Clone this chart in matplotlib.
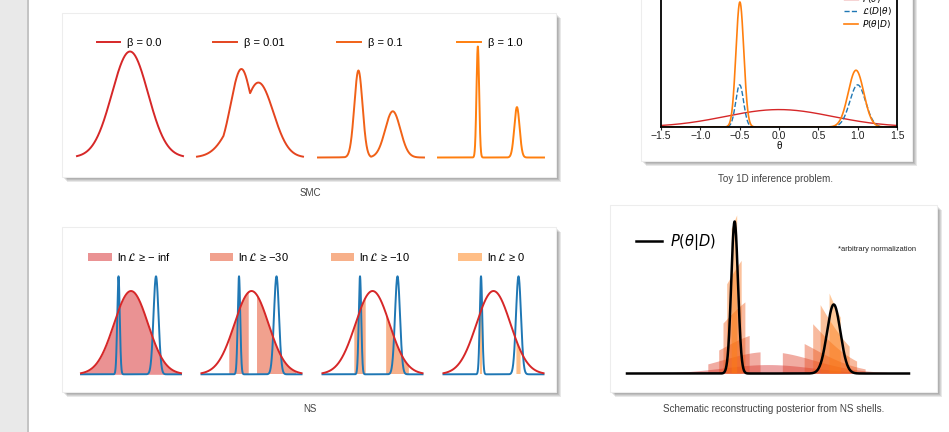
import numpy as np
import matplotlib
matplotlib.use("Agg")
import matplotlib.pyplot as plt
from matplotlib.patches import Rectangle
from matplotlib.colors import to_rgb

plt.rcParams['font.family'] = ['Liberation Sans', 'DejaVu Sans']
plt.rcParams['mathtext.fontset'] = 'dejavusans'

# toy 1D problem, parameters
prior_mu, prior_sd = 0.0, 0.68
like_mu = [-0.5, 1.0]
like_sd = [0.05, 0.10]
lnl_max = 0.35
lnl_floor = -50.0

# SMC panel
betas = [0.0, 0.01, 0.1, 1.0]
smc_labels = ['β = 0.0', 'β = 0.01', 'β = 0.1', 'β = 1.0']
smc_peak_px = [106, 88.5, 87, 111]

# NS panel
ns_thresh = [-np.inf, -30, -10, 0]
ns_labels = [r'ln$\,\mathcal{L}$ ≥ − inf', r'ln$\,\mathcal{L}$ ≥ −30',
             r'ln$\,\mathcal{L}$ ≥ −10', r'ln$\,\mathcal{L}$ ≥ 0']
ns_prior_rel = 0.85

# posterior reconstruction from shells
shell_thresh = [-np.inf, -30, -10, -5, -2, 0]
shell_height = [0.045, 0.108, 0.205, 0.405, 0.67, 1.0]

captions = ['SMC', 'Toy 1D inference problem.', 'NS',
            'Schematic reconstructing posterior from NS shells.']

red, orange = np.array(to_rgb('#d62728')), np.array(to_rgb('#ff7f0e'))
def ramp(n):
    return [tuple(red + (orange - red) * t) for t in np.linspace(0, 1, n)]


def prior(x):
    return np.exp(-0.5 * ((x - prior_mu) / prior_sd) ** 2) / (prior_sd * np.sqrt(2 * np.pi))


def lnlike(x):
    l = sum(np.exp(-0.5 * ((x - m) / s) ** 2) for m, s in zip(like_mu, like_sd))
    with np.errstate(divide='ignore'):
        ll = np.log(l) + lnl_max
    return np.maximum(ll, lnl_floor)


W, H = 949, 432
fig = plt.figure(figsize=(W / 100, H / 100), dpi=100)
fig.patch.set_facecolor('white')


def px_axes(x0, y0, x1, y1):
    ax = fig.add_axes([x0 / W, 1 - y1 / H, (x1 - x0) / W, (y1 - y0) / H])
    ax.patch.set_alpha(0)
    return ax


def fig_xy(x, y):
    return (x / W, 1 - y / H)


# page background, cards, captions
bg = fig.add_axes([0, 0, 1, 1])
bg.set_xlim(0, W)
bg.set_ylim(H, 0)
bg.axis('off')
bg.add_patch(Rectangle((0, 0), 27.5, H, facecolor='#e9e9e9', lw=0))
bg.plot([28.2, 28.2], [0, H], color='#b9b9b9', lw=1.2)

cards = [(62, 13, 556, 177), (641, -20, 912, 161), (62, 227, 556, 392), (610, 205, 937, 392)]
for x0, y0, x1, y1 in cards:
    for off in range(1, 6):
        bg.add_patch(Rectangle((x0 + off, y0 + off), x1 - x0, y1 - y0,
                               facecolor='black', alpha=0.09, lw=0))
    bg.add_patch(Rectangle((x0, y0), x1 - x0, y1 - y0, facecolor='white',
                           edgecolor='#ededed', lw=0.8))

cap_pos = [(310, 193), (776, 179), (310, 409), (774, 409)]
cap_size = [7, 7.1, 7, 7.1]
for (cx, cy), cap, fs in zip(cap_pos, captions, cap_size):
    bg.text(cx, cy, cap, ha='center', va='center', fontsize=fs, color='#444444')

# ---- SMC: tempered posteriors
x = np.linspace(-2, 2, 4001)
pr = prior(x)
ll = lnlike(x)
smc_left = [77, 197, 318, 438]
for i, (b, lab, col, pk) in enumerate(zip(betas, smc_labels, ramp(4), smc_peak_px)):
    x0 = smc_left[i]
    ax = px_axes(x0, 45, x0 + 106, 157.5)
    p = pr * np.exp(b * (ll - ll.max()))
    p = p / p.max()
    ax.plot(x, p, color=col, lw=1.4, label=lab, clip_on=False)
    ax.set_xlim(-2, 2)
    ax.set_ylim(0, (157.5 - 45) / pk)
    ax.axis('off')
    ax.legend(loc='center', bbox_to_anchor=fig_xy(x0 + 52, 42.5),
              bbox_transform=fig.transFigure, frameon=False, fontsize=8,
              handlelength=2.15, handletextpad=0.6, borderpad=0, borderaxespad=0)

# ---- NS: likelihood-constrained prior
ns_left = [81, 201.5, 322.5, 443.5]
like_n = np.exp(ll) / np.exp(ll).max()
prior_n = pr / pr.max() * ns_prior_rel
for i, (t, lab, col) in enumerate(zip(ns_thresh, ns_labels, ramp(4))):
    x0 = ns_left[i]
    ax = px_axes(x0, 270, x0 + 100, 374.3)
    ax.fill_between(x, 0, prior_n, where=ll >= t, color=col, alpha=0.5, lw=0,
                    label=lab)
    ax.plot(x, like_n, color='#1f77b4', lw=1.4, clip_on=False)
    ax.plot(x, prior_n, color='#d62728', lw=1.4, clip_on=False)
    ax.set_xlim(-2, 2)
    ax.set_ylim(0, (374.3 - 270) / 98)
    ax.axis('off')
    ax.legend(loc='center', bbox_to_anchor=fig_xy(x0 + 48, 257),
              bbox_transform=fig.transFigure, frameon=False, fontsize=8,
              handlelength=2.15, handleheight=0.8, handletextpad=0.45,
              borderpad=0, borderaxespad=0)

# ---- Toy 1D inference problem
xt = np.linspace(-1.5, 1.5, 3001)
pr_t = prior(xt)
L_t = np.exp(lnlike(xt))
post_t = pr_t * L_t
post_t = post_t / np.trapezoid(post_t, xt)
top = -45
ax = px_axes(661, top, 897, 127)
ax.plot(xt, pr_t, color='#d62728', lw=1.0, label=r'$P(\theta)$')
ax.plot(xt, L_t, color='#1f77b4', lw=1.0, ls='--', label=r'$\mathcal{L}(D|\theta)$')
ax.plot(xt, post_t, color='#ff7f0e', lw=1.2, label=r'$P(\theta|D)$')
ax.set_xlim(-1.5, 1.5)
ax.set_ylim(0, post_t.max() * (127 - top) / 125)
ax.set_yticks([])
ax.set_xticks([-1.5, -1.0, -0.5, 0.0, 0.5, 1.0, 1.5])
ax.tick_params(axis='x', labelsize=7.5, length=2.5, width=0.8, pad=0.5, colors='#222222')
ax.set_xlabel('θ', fontsize=7, labelpad=0)
for s in ax.spines.values():
    s.set_linewidth(1.3)
ax.legend(loc='center', bbox_to_anchor=fig_xy(868, 12), bbox_transform=fig.transFigure,
          frameon=False, fontsize=6.5, handlelength=1.55, handletextpad=0.45,
          labelspacing=-0.02, borderpad=0, borderaxespad=0)

# ---- posterior rebuilt from NS shells
xs = np.linspace(-2.1, 2.1, 4201)
pr_s = prior(xs)
ll_s = lnlike(xs)
post_s = pr_s * np.exp(ll_s)
post_s = post_s / post_s.max()
ref = pr_s[np.argmax(post_s)]
ax = px_axes(627, 215, 909, 373.5)
for t, h, col in zip(shell_thresh, shell_height, ramp(len(shell_thresh))):
    ax.fill_between(xs, 0, pr_s / ref * h, where=ll_s >= t, color=col, alpha=0.42, lw=0)
ax.plot(xs, post_s, color='black', lw=1.8, label=r'$P(\theta|D)$', clip_on=False)
ax.set_xlim(-2.1, 2.1)
ax.set_ylim(0, (373.5 - 215) / 152)
ax.axis('off')
ax.legend(loc='center', bbox_to_anchor=fig_xy(676, 241.7), bbox_transform=fig.transFigure,
          frameon=False, fontsize=10.5, handlelength=1.8, handletextpad=0.5,
          borderpad=0, borderaxespad=0)
bg.text(838, 249.3, '*arbitrary normalization', ha='left', va='center', fontsize=5.4,
        color='#222222')

fig.savefig('out.png', dpi=100)
